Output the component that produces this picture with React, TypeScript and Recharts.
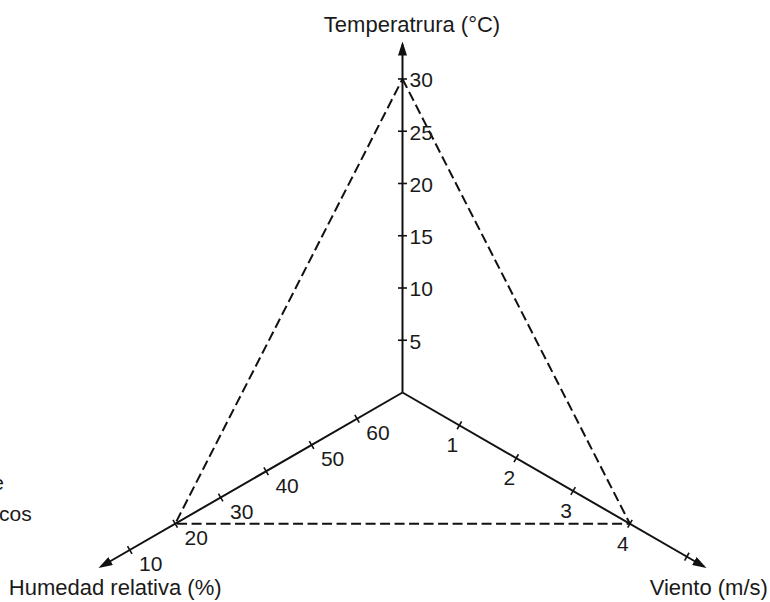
import React from 'react';
import { RadarChart, Radar, PolarGrid, PolarAngleAxis, PolarRadiusAxis } from 'recharts';

// axes in Recharts' clockwise order: top, lower right, lower left
const axisNames = ['Temperatrura (°C)', 'Viento (m/s)', 'Humedad relativa (%)'];
// value at the centre and at the arrow end of each axis
const axisFrom = [0, 0, 70];
const axisTo = [33.3, 5.3, 3.7];

const tempTicks = [5, 10, 15, 20, 25, 30];
const windTicks = [1, 2, 3, 4, 5];
const windTickLabels = ['1', '2', '3', '4', ''];
const humTicks = [60, 50, 40, 30, 20, 10];

// measured conditions (dashed triangle)
const conditions = [30, 4, 20];

const tickValues = [tempTicks, windTicks, humTicks];
const tickLabels = [tempTicks.map(String), windTickLabels, humTicks.map(String)];
const LEVELS = 6;

const norm = (i: number, v: number) => (v - axisFrom[i]) / (axisTo[i] - axisFrom[i]);

const chartData = axisNames.map((axis, i) => {
  const row: Record<string, any> = { axis, value: norm(i, conditions[i]) };
  for (let k = 0; k < LEVELS; k++) {
    const v = tickValues[i][k];
    row['t' + k] = v == null ? null : norm(i, v);
  }
  return row;
});

const CX = 402.5;
const CY = 392.5;
const R = 348;
const INK = '#111';
const FONT = '"Liberation Sans", Arial, Helvetica, sans-serif';

const labelOffsets = [
  { dx: 7, dy: 8.5, anchor: 'start' },
  { dx: -7, dy: 27, anchor: 'middle' },
  { dx: 21, dy: 21.5, anchor: 'middle' },
];
const titleOffsets = [
  { dx: 9.5, dy: -4.5 },
  { dx: -2, dy: 24.5 },
  { dx: 21, dy: 24.5 },
];

const makeTickDot = (level: number) => (props: any) => {
  const { cx, cy, index } = props;
  const key = `tick-${level}-${index}`;
  const v = tickValues[index]?.[level];
  if (v == null || !Number.isFinite(cx) || !Number.isFinite(cy)) return <g key={key} />;
  const a = ((90 - 120 * index) * Math.PI) / 180;
  const px = Math.sin(a) * 4.5;
  const py = Math.cos(a) * 4.5;
  const o = labelOffsets[index];
  const label = tickLabels[index][level];
  return (
    <g key={key}>
      <line x1={cx - px} y1={cy - py} x2={cx + px} y2={cy + py} stroke={INK} strokeWidth={1.6} />
      {label ? (
        <text x={cx + o.dx} y={cy + o.dy} textAnchor={o.anchor} fontSize={21} fill="#1a1a1a" fontFamily={FONT}>
          {label}
        </text>
      ) : null}
    </g>
  );
};

const renderTitle = (props: any) => {
  const { x, y, index, payload } = props;
  const o = titleOffsets[index] || { dx: 0, dy: 0 };
  return (
    <text key={`title-${index}`} x={x + o.dx} y={y + o.dy} textAnchor="middle" fontSize={22} fill="#1a1a1a" fontFamily={FONT}>
      {payload?.value ?? axisNames[index]}
    </text>
  );
};

export default function App() {
  return (
    <div style={{ position: 'absolute', left: 0, top: 0, width: 770, height: 602, background: '#fff', overflow: 'hidden' }}>
      <svg width={770} height={602} style={{ position: 'absolute', left: 0, top: 0 }}>
        <defs>
          <marker id="axisArrow" markerUnits="userSpaceOnUse" markerWidth={14} markerHeight={9} refX={11} refY={4.5} orient="auto">
            <path d="M0,0 L14,4.5 L0,9 z" fill={INK} />
          </marker>
        </defs>
        {/* fragments of neighbouring text cut off at the left edge */}
        <text x={4} y={490} textAnchor="end" fontSize={21} fill="#1a1a1a" fontFamily={FONT}>e</text>
        <text x={-1} y={521} fontSize={21} fill="#1a1a1a" fontFamily={FONT}>cos</text>
      </svg>
      <RadarChart width={770} height={602} data={chartData} cx={CX} cy={CY} outerRadius={R} margin={{ top: 0, right: 0, bottom: 0, left: 0 }}>
        <PolarGrid gridType="polygon" radialLines polarRadius={[]} stroke={INK} strokeWidth={2} markerEnd="url(#axisArrow)" />
        <PolarRadiusAxis domain={[0, 1]} type="number" allowDataOverflow tick={false} axisLine={false} />
        <PolarAngleAxis dataKey="axis" tick={renderTitle} axisLine={false} tickLine={false} />
        {Array.from({ length: LEVELS }, (_, k) => (
          <Radar
            key={'t' + k}
            dataKey={'t' + k}
            stroke="none"
            fill="none"
            fillOpacity={0}
            dot={makeTickDot(k)}
            legendType="none"
            isAnimationActive={false}
          />
        ))}
        <Radar
          dataKey="value"
          stroke={INK}
          strokeWidth={2}
          strokeDasharray="10 4.5"
          fill="none"
          fillOpacity={0}
          dot={false}
          legendType="none"
          isAnimationActive={false}
        />
      </RadarChart>
    </div>
  );
}
